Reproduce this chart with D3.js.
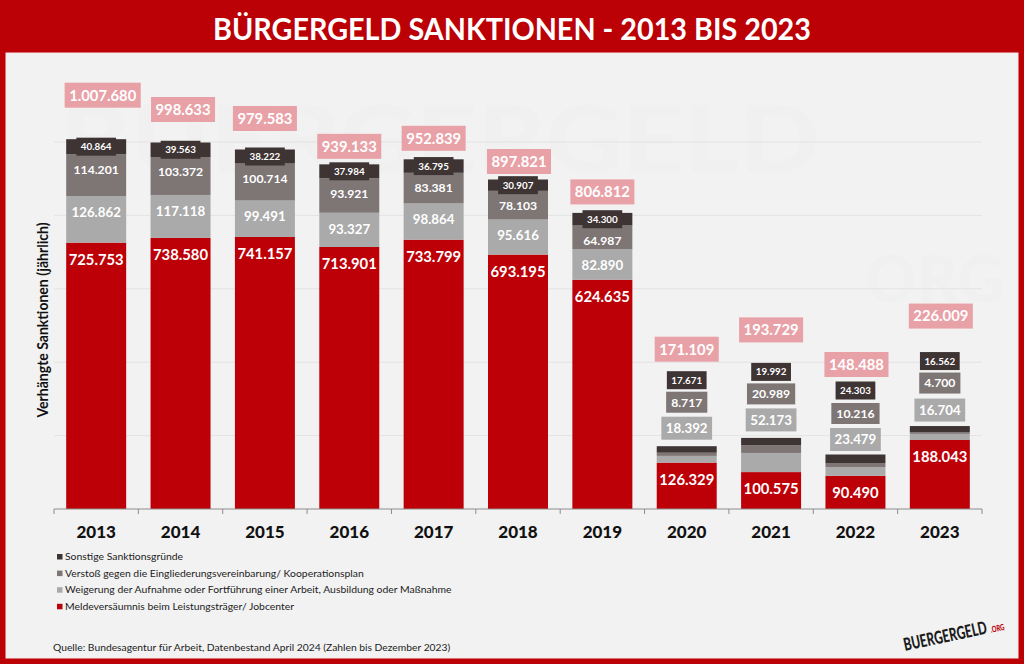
<!DOCTYPE html>
<html>
<head>
<meta charset="utf-8">
<script src="https://cdn.jsdelivr.net/npm/d3@7"></script>
<style>
  html, body { margin: 0; padding: 0; background: #bb0006; }
  svg { display: block; }
  text { font-family: Lato, "Open Sans", sans-serif; }
</style>
</head>
<body>
<svg id="chart" width="1024" height="664"></svg>
<script>
var years = [2013, 2014, 2015, 2016, 2017, 2018, 2019, 2020, 2021, 2022, 2023];

var meldeversaeumnis = [725753, 738580, 741157, 713901, 733799, 693195, 624635, 126329, 100575, 90490, 188043];
var weigerung = [126862, 117118, 99491, 93327, 98864, 95616, 82890, 18392, 52173, 23479, 16704];
var verstoss = [114201, 103372, 100714, 93921, 83381, 78103, 64987, 8717, 20989, 10216, 4700];
var sonstige = [40864, 39563, 38222, 37984, 36795, 30907, 34300, 17671, 19992, 24303, 16562];
var totals = [1007680, 998633, 979583, 939133, 952839, 897821, 806812, 171109, 193729, 148488, 226009];

var legendLabels = [
    "Sonstige Sanktionsgründe",
    "Verstoß gegen die Eingliederungsvereinbarung/ Kooperationsplan",
    "Weigerung der Aufnahme oder Fortführung einer Arbeit, Ausbildung oder Maßnahme",
    "Meldeversäumnis beim Leistungsträger/ Jobcenter"
];

var RED = "#bd0007", LIGHT = "#aaaaaa", MID = "#7e7575", DARK = "#3e3434", PINK = "#e8a1a7", GRID = "#e3e3e3";

var svg = d3.select("#chart");

// frame
svg.append("rect").attr("width", 1024).attr("height", 664).attr("fill", "#bb0006");
svg.append("rect").attr("x", 6).attr("y", 53).attr("width", 1012).attr("height", 605)
    .attr("fill", "#f2f2f2").attr("stroke", "#f8e8e8").attr("stroke-width", 1);

svg.append("text").attr("x", 512).attr("y", 40).attr("text-anchor", "middle")
    .attr("font-size", 30).attr("font-weight", 700).attr("fill", "#fff")
    .attr("textLength", 598).attr("lengthAdjust", "spacingAndGlyphs")
    .text("BÜRGERGELD SANKTIONEN - 2013 BIS 2023");

// ghost logo behind the plot
svg.append("text").attr("x", 60).attr("y", 172).attr("font-size", 92).attr("font-weight", 900)
    .attr("fill", "#f0f0f0").attr("textLength", 760).attr("lengthAdjust", "spacingAndGlyphs")
    .text("BUERGERGELD");
svg.append("text").attr("x", 865).attr("y", 302).attr("font-size", 64).attr("font-weight", 900)
    .attr("fill", "#f0f0f0")
    .text("ORG");

var x = d3.scaleBand().domain(years).range([54, 982]).paddingInner(0.289).paddingOuter(0.1445);
var y = d3.scaleLinear().domain([0, 1000000]).range([509, 142]);

svg.append("g").selectAll("line").data(y.ticks(5).filter(function(d) { return d > 0; })).enter()
    .append("line")
    .attr("x1", 54).attr("x2", 982)
    .attr("y1", function(d) { return y(d); }).attr("y2", function(d) { return y(d); })
    .attr("stroke", GRID).attr("stroke-width", 1);

// stack order, bottom to top
var series = [
    { values: meldeversaeumnis, color: RED },
    { values: weigerung, color: LIGHT },
    { values: verstoss, color: MID },
    { values: sonstige, color: DARK }
];

var rows = years.map(function(year, i) {
    var base = 0;
    var segs = series.map(function(s, k) {
        var seg = { year: year, i: i, k: k, y0: base, y1: base + s.values[i], value: s.values[i], color: s.color };
        base = seg.y1;
        return seg;
    });
    return { year: year, i: i, segs: segs, top: base };
});

var bars = svg.append("g").selectAll("g").data(rows).enter().append("g");
bars.selectAll("rect").data(function(d) { return d.segs; }).enter().append("rect")
    .attr("x", function(d) { return x(d.year); })
    .attr("width", x.bandwidth())
    .attr("y", function(d) { return y(d.y1); })
    .attr("height", function(d) { return y(d.y0) - y(d.y1); })
    .attr("fill", function(d) { return d.color; });

// axis: ticks sit on the band edges, labels in the band centres
svg.append("line").attr("x1", 54).attr("x2", 982).attr("y1", y(0)).attr("y2", y(0))
    .attr("stroke", "#8c8c8c").attr("stroke-width", 1);
var tickEdges = years.map(function(d) { return x(d) - x.step() * x.paddingInner() / 2; }).concat([982]);
svg.append("g").selectAll("line").data(tickEdges).enter().append("line")
    .attr("x1", function(d) { return d; }).attr("x2", function(d) { return d; })
    .attr("y1", y(0)).attr("y2", y(0) + 5)
    .attr("stroke", "#8c8c8c");
var axis = svg.append("g").attr("transform", "translate(0," + y(0) + ")")
    .call(d3.axisBottom(x).tickSize(0).tickPadding(17));
axis.select(".domain").remove();
axis.selectAll("text").attr("font-size", 17).attr("font-weight", 900).attr("fill", "#111")
    .style("font-family", "Lato");

svg.append("text").attr("transform", "translate(48,320) rotate(-90)").attr("text-anchor", "middle")
    .attr("font-size", 15).attr("font-weight", 700).attr("fill", "#111")
    .attr("textLength", 195).attr("lengthAdjust", "spacingAndGlyphs")
    .text("Verhängte Sanktionen (jährlich)");

// value labels
var fmt = function(v) { return d3.format(",")(v).replace(/,/g, "."); };

function label(cx, cy, value, size, boxColor, padX, boxH) {
    var g = svg.append("g");
    var r = g.append("rect");
    var t = g.append("text").attr("x", cx).attr("y", cy).attr("dy", "0.36em")
        .attr("text-anchor", "middle").attr("font-size", size).attr("font-weight", 700)
        .attr("fill", "#fff").text(fmt(value));
    if (boxColor) {
        var w = t.node().getComputedTextLength() + padX * 2;
        r.attr("x", cx - w / 2).attr("y", cy - boxH / 2).attr("width", w).attr("height", boxH).attr("fill", boxColor);
    } else {
        r.remove();
    }
}

// how far each total label floats above its bar, and its sideways nudge
var totalLift = [44, 33, 31, 18, 21, 18, 21, 97, 108, 90, 110];
var totalShift = [6.5, 2.5, 0, 0, 0, 1, 0, 0, 0, 1, 1];

rows.forEach(function(row, i) {
    var cx = x(row.year) + x.bandwidth() / 2;
    var top = y(row.top);
    var small = row.top < 300000;
    var s = row.segs;
    label(cx, y(s[0].y1) + 17, s[0].value, 14.8);
    if (small) {
        var lift = [[18, 44, 66], [18, 44, 66], [15, 41, 64], [16, 43, 65]][i - 7];
        label(cx, top - lift[0], s[1].value, 13.3, LIGHT, 4.5, 23);
        label(cx, top - lift[1], s[2].value, 12.2, MID, 5, 21);
        label(cx, top - lift[2], s[3].value, 9.8, DARK, 4.5, 18);
    } else {
        label(cx, y(s[1].y1) + 16, s[1].value, 13.3);
        label(cx, y(s[2].y1) + 15, s[2].value, 12.2);
        label(cx, (y(s[3].y1) + y(s[3].y0)) / 2, s[3].value, 9.8, DARK, 4.5, 18);
    }
    label(cx + totalShift[i], top - totalLift[i], totals[i], 14.8, PINK, 4.5, 25);
});

// legend, same top-down order as the stack read from above
var legendColors = [DARK, MID, LIGHT, RED];
var legend = svg.append("g").selectAll("g").data(legendLabels).enter().append("g")
    .attr("transform", function(d, i) { return "translate(57," + (556.5 + i * 16.6) + ")"; });
legend.append("rect").attr("x", 0).attr("y", -2.5).attr("width", 5.5).attr("height", 5.5)
    .attr("fill", function(d, i) { return legendColors[i]; });
legend.append("text").attr("x", 8).attr("dy", "0.35em").attr("font-size", 10.4).attr("fill", "#222")
    .text(function(d) { return d; });

svg.append("text").attr("x", 53).attr("y", 651).attr("font-size", 10.3).attr("fill", "#222")
    .text("Quelle: Bundesagentur für Arbeit, Datenbestand April 2024 (Zahlen bis Dezember 2023)");

// logo, bottom right
var logo = svg.append("g").attr("transform", "translate(905,651) rotate(-12) scale(0.9,1.35)");
logo.append("text").attr("font-size", 13.2).attr("font-weight", 900).attr("fill", "#1c1c1c")
    .text("BUERGERGELD");
logo.append("text").attr("x", 98).attr("font-size", 6.5).attr("font-weight", 900).attr("fill", "#bd0007")
    .text(".ORG");
</script>
</body>
</html>
